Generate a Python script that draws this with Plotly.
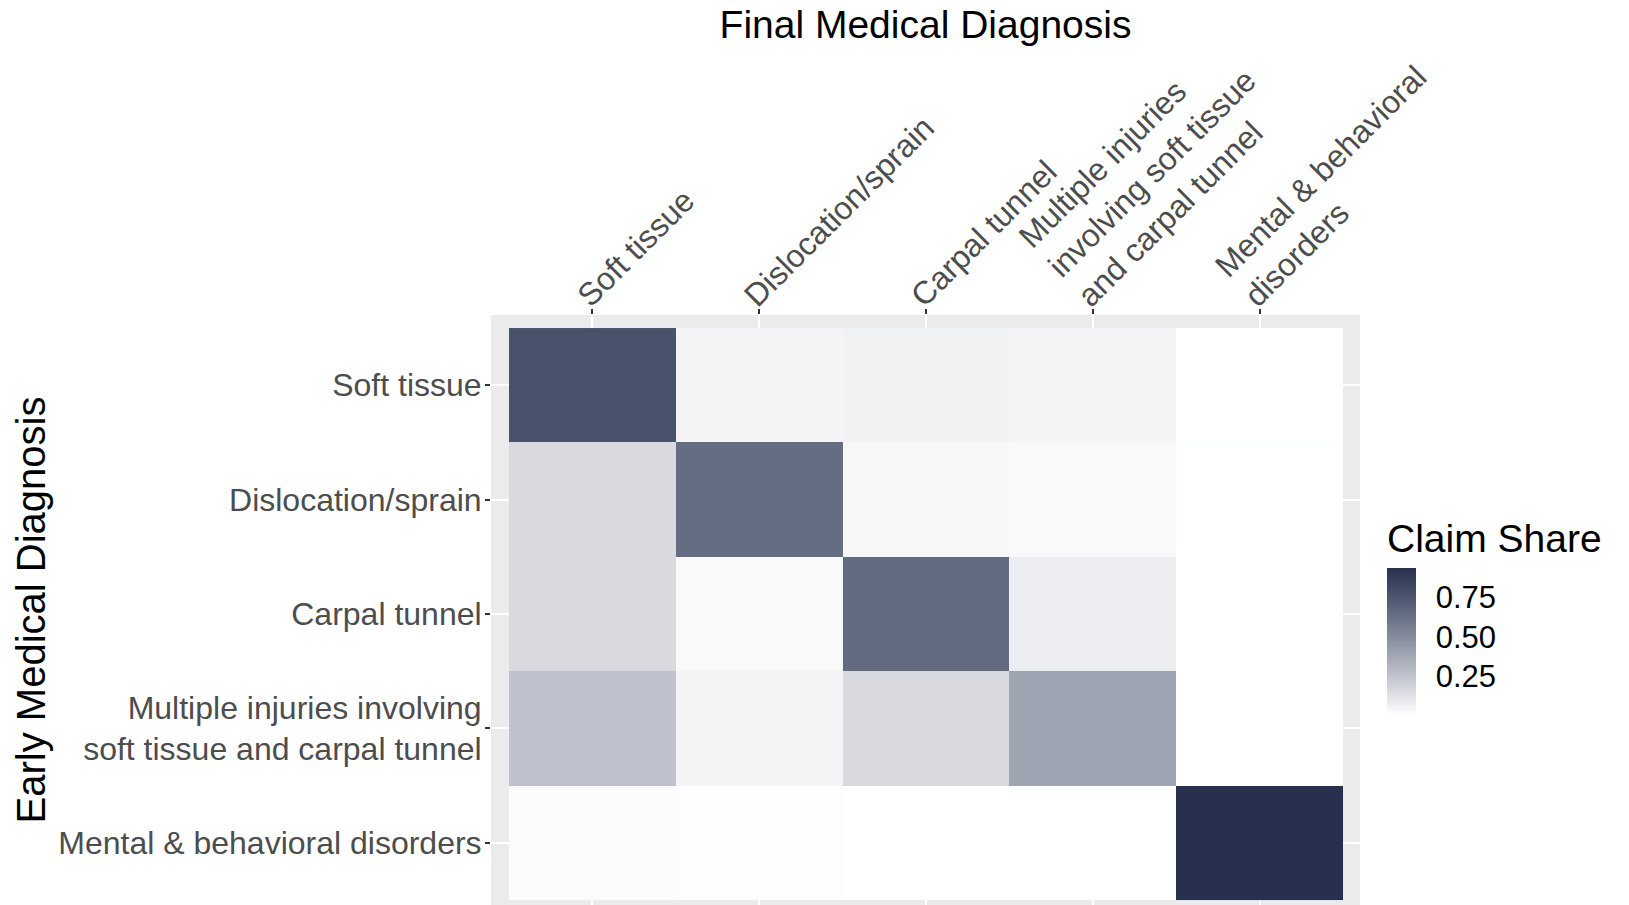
import plotly.graph_objects as go

final_dx = [
    "Soft tissue",
    "Dislocation/sprain",
    "Carpal tunnel",
    "Multiple injuries<br>involving soft tissue<br>and carpal tunnel",
    "Mental & behavioral<br>disorders",
]
early_dx = [
    "Soft tissue",
    "Dislocation/sprain",
    "Carpal tunnel",
    "Multiple injuries involving<br>soft tissue and carpal tunnel",
    "Mental & behavioral disorders",
]
# rows = early diagnosis, columns = final diagnosis
share_soft = [0.77, 0.05, 0.06, 0.05, 0.005]
share_disl = [0.16, 0.64, 0.04, 0.03, 0.007]
share_carp = [0.16, 0.03, 0.65, 0.08, 0.005]
share_mult = [0.26, 0.05, 0.16, 0.39, 0.005]
share_ment = [0.02, 0.015, 0.005, 0.005, 0.935]
z = [share_soft, share_disl, share_carp, share_mult, share_ment]

cbar_ticks = [0.25, 0.50, 0.75]
cbar_text = ["0.25", "0.50", "0.75"]

FONT = "Liberation Sans, Arial, sans-serif"
W, H = 1629, 905
M_L, M_R, M_T, M_B = 491, 269, 315, 0
PH = H - M_T - M_B

fig = go.Figure(
    go.Heatmap(
        z=z,
        x=final_dx,
        y=early_dx,
        colorscale=[
            [0.0, "#FFFFFF"],
            [0.25, "#C4C7D0"],
            [0.5, "#8C92A2"],
            [0.75, "#576077"],
            [1.0, "#27314F"],
        ],
        colorbar=dict(
            title=dict(text="Claim Share", side="top",
                       font=dict(family=FONT, size=39, color="#000000")),
            xref="container",
            x=1387 / W, xanchor="left",
            yref="paper",
            y=(H - 520) / PH, yanchor="top",
            xpad=0, ypad=0,
            lenmode="pixels", len=195,
            thickness=29,
            outlinewidth=0,
            tickvals=cbar_ticks, ticktext=cbar_text,
            ticks="outside", ticklen=14, tickcolor="rgba(255,255,255,0)",
            tickfont=dict(family=FONT, size=31, color="#000000"),
        ),
        hovertemplate="%{y}<br>%{x}<br>%{z}<extra></extra>",
    )
)

fig.update_layout(
    width=W,
    height=H,
    margin=dict(l=M_L, r=M_R, t=M_T, b=M_B, autoexpand=False),
    paper_bgcolor="#FFFFFF",
    plot_bgcolor="#EBEBEB",
    font=dict(family=FONT, color="#4D4D4D"),
    title=dict(
        text="Final Medical Diagnosis",
        x=0.5, xref="paper", xanchor="center",
        y=1 - 11 / H, yref="container", yanchor="top",
        font=dict(family=FONT, size=39, color="#000000"),
    ),
    xaxis=dict(
        side="top",
        type="category",
        categoryorder="array",
        categoryarray=final_dx,
        range=[-0.608, 4.602],
        tickangle=-45,
        tickfont=dict(family=FONT, size=32, color="#4D4D4D"),
        ticks="outside", ticklen=5, tickwidth=1.5, tickcolor="#333333",
        ticklabelstandoff=-17,
        ticklabelshift=-13,
        showgrid=True, gridcolor="#FFFFFF", gridwidth=2,
        zeroline=False, showline=False, automargin=False,
    ),
    yaxis=dict(
        type="category",
        categoryorder="array",
        categoryarray=early_dx,
        range=[4.544, -0.614],
        tickfont=dict(family=FONT, size=32, color="#4D4D4D"),
        ticks="outside", ticklen=5, tickwidth=1.5, tickcolor="#333333",
        ticklabelstandoff=-3,
        showgrid=True, gridcolor="#FFFFFF", gridwidth=2,
        zeroline=False, showline=False, automargin=False,
        title=dict(text="Early Medical Diagnosis", standoff=0,
                   font=dict(family=FONT, size=40, color="#000000")),
    ),
)

fig.write_html(
    "out.html",
    config={"displayModeBar": False},
    post_script="document.body.style.margin='0';",
)
